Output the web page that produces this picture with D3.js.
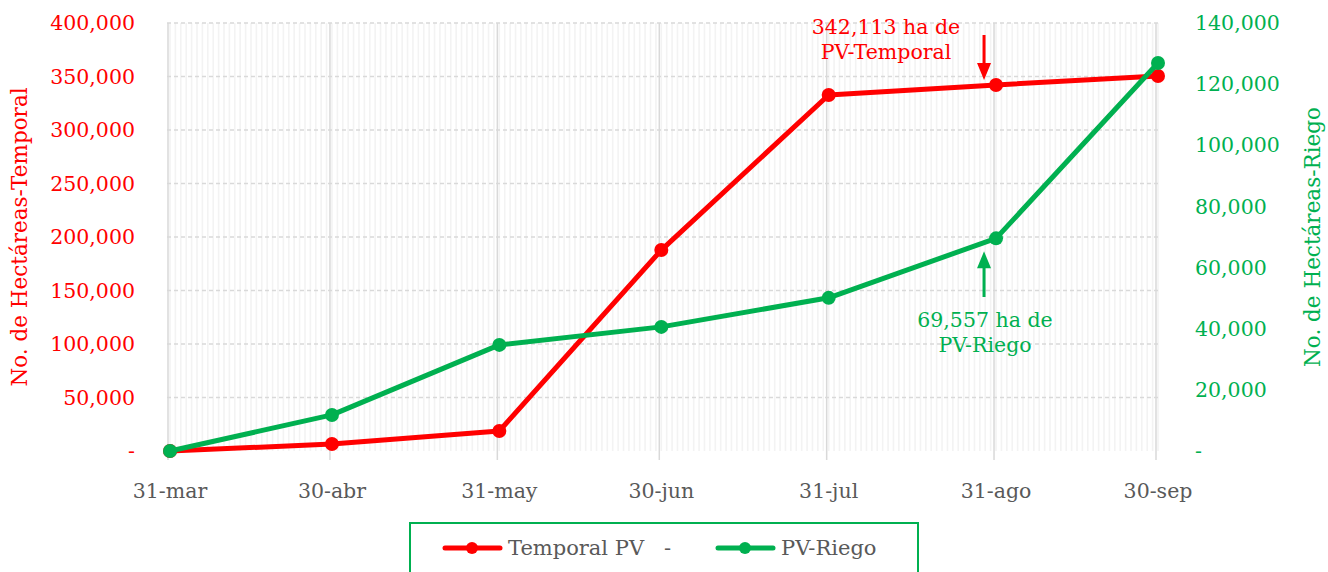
<!DOCTYPE html>
<html>
<head>
<meta charset="utf-8">
<script src="https://cdn.jsdelivr.net/npm/d3@7"></script>
<style>
  body { margin: 0; background: #fff; }
  svg text { font-family: "DejaVu Serif", serif; }
</style>
</head>
<body>
<svg id="chart" width="1328" height="572"></svg>
<script>
// datos
const fechas = ["2021-03-31", "2021-04-30", "2021-05-31", "2021-06-30", "2021-07-31", "2021-08-31", "2021-09-30"];
const etiquetas = ["31-mar", "30-abr", "31-may", "30-jun", "31-jul", "31-ago", "30-sep"];
const temporal = [0, 6500, 18700, 187800, 332700, 342113, 350500];
const riego = [0, 11800, 34700, 40600, 50100, 69557, 126900];
const ticksIzq = [0, 50000, 100000, 150000, 200000, 250000, 300000, 350000, 400000];
const ticksDer = [0, 20000, 40000, 60000, 80000, 100000, 120000, 140000];

const ROJO = "#ff0000", VERDE = "#00b050", GRIS = "#595959";
const FS = 20.5;
const parse = d3.timeParse("%Y-%m-%d");
const dias = fechas.map(parse);

const svg = d3.select("#chart");
const x = d3.scaleTime().domain([dias[0], dias[dias.length - 1]]).range([170, 1158]);
const yL = d3.scaleLinear().domain([0, 400000]).range([451, 23]);
const yR = d3.scaleLinear().domain([0, 140000]).range([451, 23]);
const fmt = d => d === 0 ? "-" : d3.format(",")(d);

// minor gridlines (daily)
const grid = svg.append("g");
grid.selectAll("line.minor")
  .data(d3.timeDay.range(dias[0], d3.timeDay.offset(dias[dias.length - 1], 1)))
  .join("line")
  .attr("x1", d => x(d)).attr("x2", d => x(d))
  .attr("y1", 23).attr("y2", 451)
  .attr("stroke", "#f3f3f3").attr("stroke-width", 1.6);

// horizontal dashed gridlines
grid.selectAll("line.h")
  .data(ticksIzq.slice(1))
  .join("line")
  .attr("x1", 167).attr("x2", 1160)
  .attr("y1", d => yL(d)).attr("y2", d => yL(d))
  .attr("stroke", "#d9d9d9").attr("stroke-width", 1.5)
  .attr("stroke-dasharray", "4,3");

// major vertical gridlines
grid.selectAll("line.major")
  .data(dias)
  .join("line")
  .attr("x1", d => x(d) - 2).attr("x2", d => x(d) - 2)
  .attr("y1", 23).attr("y2", 460)
  .attr("stroke", "#d9d9d9").attr("stroke-width", 1.5);

// left axis labels
svg.append("g").selectAll("text")
  .data(ticksIzq)
  .join("text")
  .attr("x", 135).attr("y", d => yL(d))
  .attr("dy", "0.35em")
  .attr("text-anchor", "end")
  .attr("fill", ROJO).attr("font-size", FS)
  .text(fmt);

// right axis labels
svg.append("g").selectAll("text")
  .data(ticksDer)
  .join("text")
  .attr("x", 1195).attr("y", d => yR(d))
  .attr("dy", "0.35em")
  .attr("fill", VERDE).attr("font-size", FS)
  .text(fmt);

// x labels
svg.append("g").selectAll("text")
  .data(dias)
  .join("text")
  .attr("x", d => x(d)).attr("y", 491)
  .attr("dy", "0.35em")
  .attr("text-anchor", "middle")
  .attr("fill", GRIS).attr("font-size", FS)
  .text((d, i) => etiquetas[i]);

// axis titles
svg.append("text")
  .attr("transform", "translate(27,237) rotate(-90)")
  .attr("text-anchor", "middle").attr("fill", ROJO).attr("font-size", 21.5)
  .text("No. de Hectáreas-Temporal");
svg.append("text")
  .attr("transform", "translate(1320,237) rotate(-90)")
  .attr("text-anchor", "middle").attr("fill", VERDE).attr("font-size", 21.5)
  .text("No. de Hectáreas-Riego");

// series
function serie(vals, y, color) {
  const pts = vals.map((v, i) => [x(dias[i]), y(v)]);
  svg.append("path")
    .attr("d", d3.line()(pts))
    .attr("fill", "none").attr("stroke", color)
    .attr("stroke-width", 5).attr("stroke-linejoin", "round");
  svg.append("g").selectAll("circle")
    .data(pts)
    .join("circle")
    .attr("cx", d => d[0]).attr("cy", d => d[1])
    .attr("r", 7).attr("fill", color);
}
serie(temporal, yL, ROJO);
serie(riego, yR, VERDE);

// annotations
function flecha(x0, yBase, yTip, color) {
  const dir = yTip > yBase ? 1 : -1;
  svg.append("line")
    .attr("x1", x0).attr("x2", x0)
    .attr("y1", yBase).attr("y2", yTip - dir * 14)
    .attr("stroke", color).attr("stroke-width", 3);
  svg.append("path")
    .attr("d", `M${x0 - 7},${yTip - dir * 17}L${x0 + 7},${yTip - dir * 17}L${x0},${yTip}Z`)
    .attr("fill", color);
}
const ax = x(dias[5]) - 12;
flecha(ax, 35, yL(temporal[5]) - 5, ROJO);
flecha(ax, 297, yR(riego[5]) + 13, VERDE);

svg.append("text").attr("x", 886).attr("y", 34)
  .attr("text-anchor", "middle").attr("fill", ROJO).attr("font-size", FS)
  .text("342,113 ha de");
svg.append("text").attr("x", 886).attr("y", 59)
  .attr("text-anchor", "middle").attr("fill", ROJO).attr("font-size", FS)
  .text("PV-Temporal");
svg.append("text").attr("x", 985).attr("y", 327)
  .attr("text-anchor", "middle").attr("fill", VERDE).attr("font-size", FS)
  .text("69,557 ha de");
svg.append("text").attr("x", 985).attr("y", 352)
  .attr("text-anchor", "middle").attr("fill", VERDE).attr("font-size", FS)
  .text("PV-Riego");

// legend
const lg = svg.append("g");
lg.append("rect")
  .attr("x", 410).attr("y", 523).attr("width", 508).attr("height", 60)
  .attr("fill", "#fff").attr("stroke", VERDE).attr("stroke-width", 2);
const items = [
  { nombre: "Temporal PV   -", color: ROJO, x0: 445 },
  { nombre: "PV-Riego", color: VERDE, x0: 718 }
];
items.forEach(it => {
  lg.append("line")
    .attr("x1", it.x0).attr("x2", it.x0 + 55)
    .attr("y1", 548).attr("y2", 548)
    .attr("stroke", it.color).attr("stroke-width", 5).attr("stroke-linecap", "round");
  lg.append("circle").attr("cx", it.x0 + 27).attr("cy", 548).attr("r", 6).attr("fill", it.color);
  lg.append("text")
    .attr("x", it.x0 + 63).attr("y", 548).attr("dy", "0.35em")
    .attr("fill", GRIS).attr("font-size", 21)
    .attr("xml:space", "preserve").style("white-space", "pre")
    .text(it.nombre);
});
</script>
</body>
</html>
